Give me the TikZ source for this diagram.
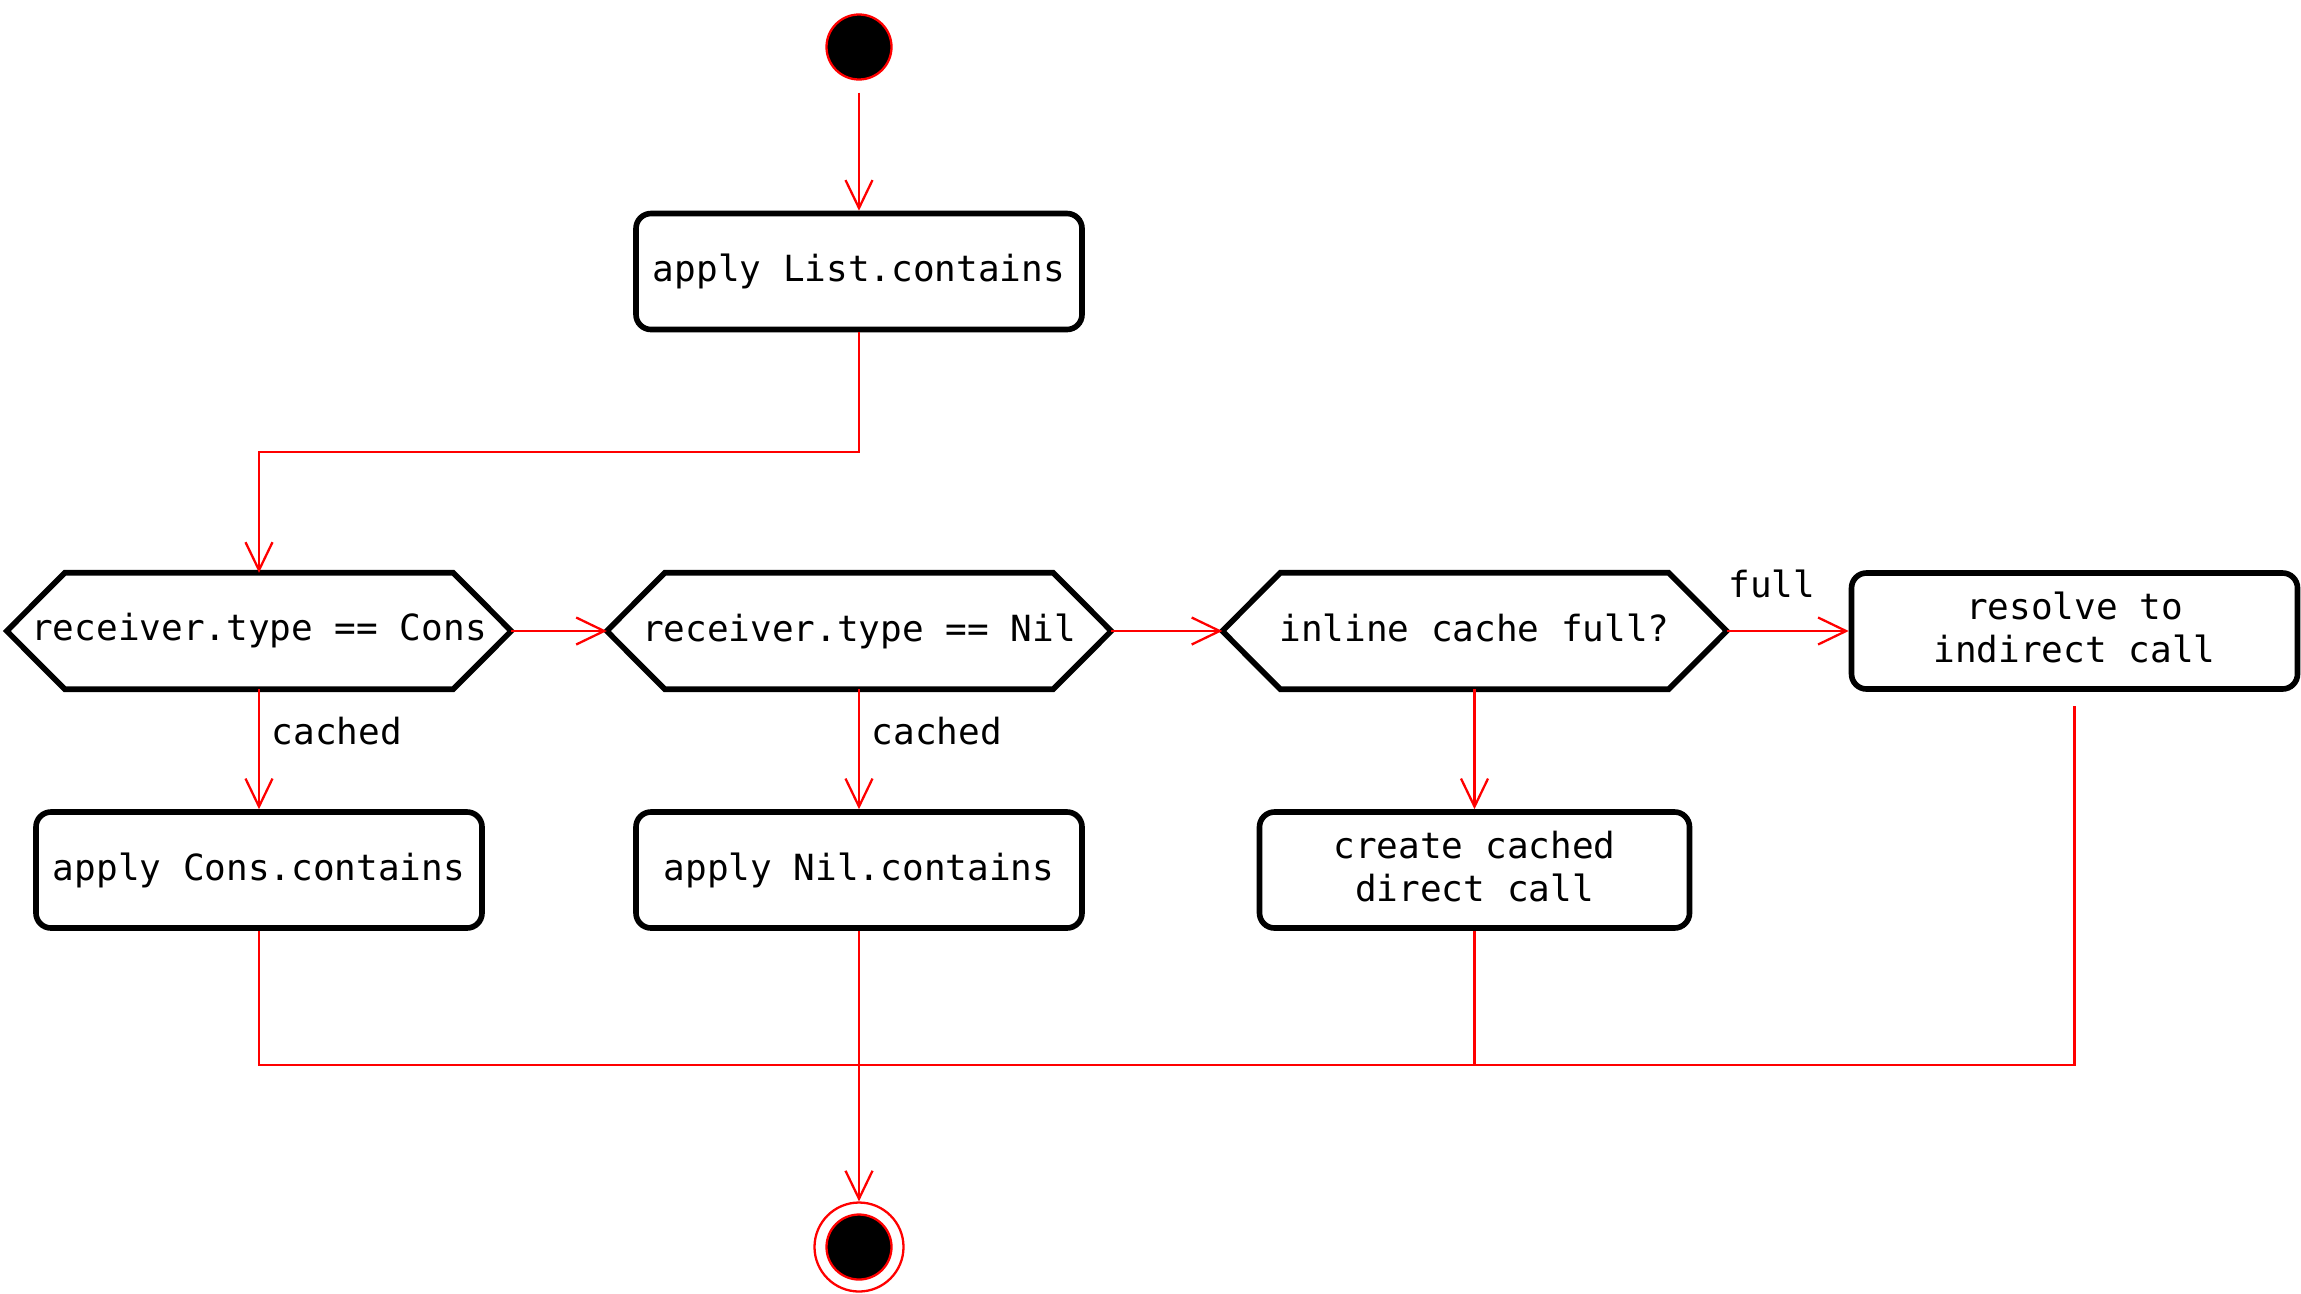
\documentclass[tikz,border=0pt]{standalone}
\usepackage{fontspec}
\setmonofont{DejaVu Sans Mono}
\usepackage{tikz}
\usetikzlibrary{arrows.meta, positioning}
\colorlet{colorFlow}{red}
\tikzset{
  action/.style={draw, rounded corners=0.15cm, line width=1.6pt, minimum width=4.46cm, minimum height=1.16cm, inner sep=0pt, align=center, execute at end node={\vphantom{p}}},
  decision/.style={minimum width=5.03cm, minimum height=1.15cm, inner sep=0pt, execute at end node={\vphantom{p}}},
  flow/.style={draw=colorFlow, line width=0.65pt},
  startdot/.style={circle, draw=colorFlow, fill=black, line width=0.65pt, minimum size=0.65cm, inner sep=0pt},
  stopdot/.style={circle, draw=colorFlow, line width=0.65pt, minimum size=0.89cm, inner sep=0pt, path picture={\draw[colorFlow, fill=black, line width=0.65pt] (path picture bounding box.center) circle (0.325cm);}},
}

\begin{document}
\begin{tikzpicture}[>={Straight Barb[length=0.28cm, width=0.27cm]}, on grid, font=\ttfamily\fontsize{10.25pt}{12.3pt}\selectfont]
\useasboundingbox (0,0) rectangle (23.01,-12.93);
\node[startdot] (start) at (8.59,-0.47) {};
\node[action, below=2.245cm of start] (applyList) {apply List.contains};
\node[decision, below=3.595cm of applyList] (isNil) {receiver.type == Nil};
\node[decision, left=6.0cm of isNil] (isCons) {receiver.type == Cons};
\node[decision, right=6.155cm of isNil] (cacheFull) {inline cache full?};
\node[action, right=6.0cm of cacheFull] (resolve) {resolve to\\indirect call};
\node[action, below=2.39cm of isCons] (applyCons) {apply Cons.contains};
\node[action, below=2.39cm of isNil] (applyNil) {apply Nil.contains};
\node[action, below=2.39cm of cacheFull, minimum width=4.30cm] (createCall) {create cached\\direct call};
\node[stopdot, below=3.77cm of applyNil] (stop) {};
\coordinate (join) at (8.59,-10.65);
\foreach \n in {isCons, isNil, cacheFull}
  \draw[line width=1.6pt] (\n.west) -- ([xshift=0.58cm]\n.north west) -- ([xshift=-0.58cm]\n.north east) -- (\n.east) -- ([xshift=-0.58cm]\n.south east) -- ([xshift=0.58cm]\n.south west) -- cycle;
\draw[flow, ->, shorten <=0.12cm] (start.south) -- (applyList.north);
\draw[flow, ->] (applyList.south) -- ++(0,-1.2) -| (isCons.north);
\draw[flow, ->] (isCons.east) -- (isNil.west);
\draw[flow, ->] (isNil.east) -- (cacheFull.west);
\draw[flow, ->] (cacheFull.east) -- node[above=0.20cm, pos=0.37] {full} (resolve.west);
\draw[flow, ->] (isCons.south) -- node[right, pos=0.35] {cached} (applyCons.north);
\draw[flow, ->] (isNil.south) -- node[right, pos=0.35] {cached} (applyNil.north);
\draw[flow, ->] (cacheFull.south) -- (createCall.north);
\draw[flow] (applyCons.south) |- (join) -| ([yshift=-0.14cm]resolve.south);
\draw[flow] (createCall.south) -- (createCall |- join);
\draw[flow, ->] (applyNil.south) -- (stop.north);
\end{tikzpicture}
\end{document}
